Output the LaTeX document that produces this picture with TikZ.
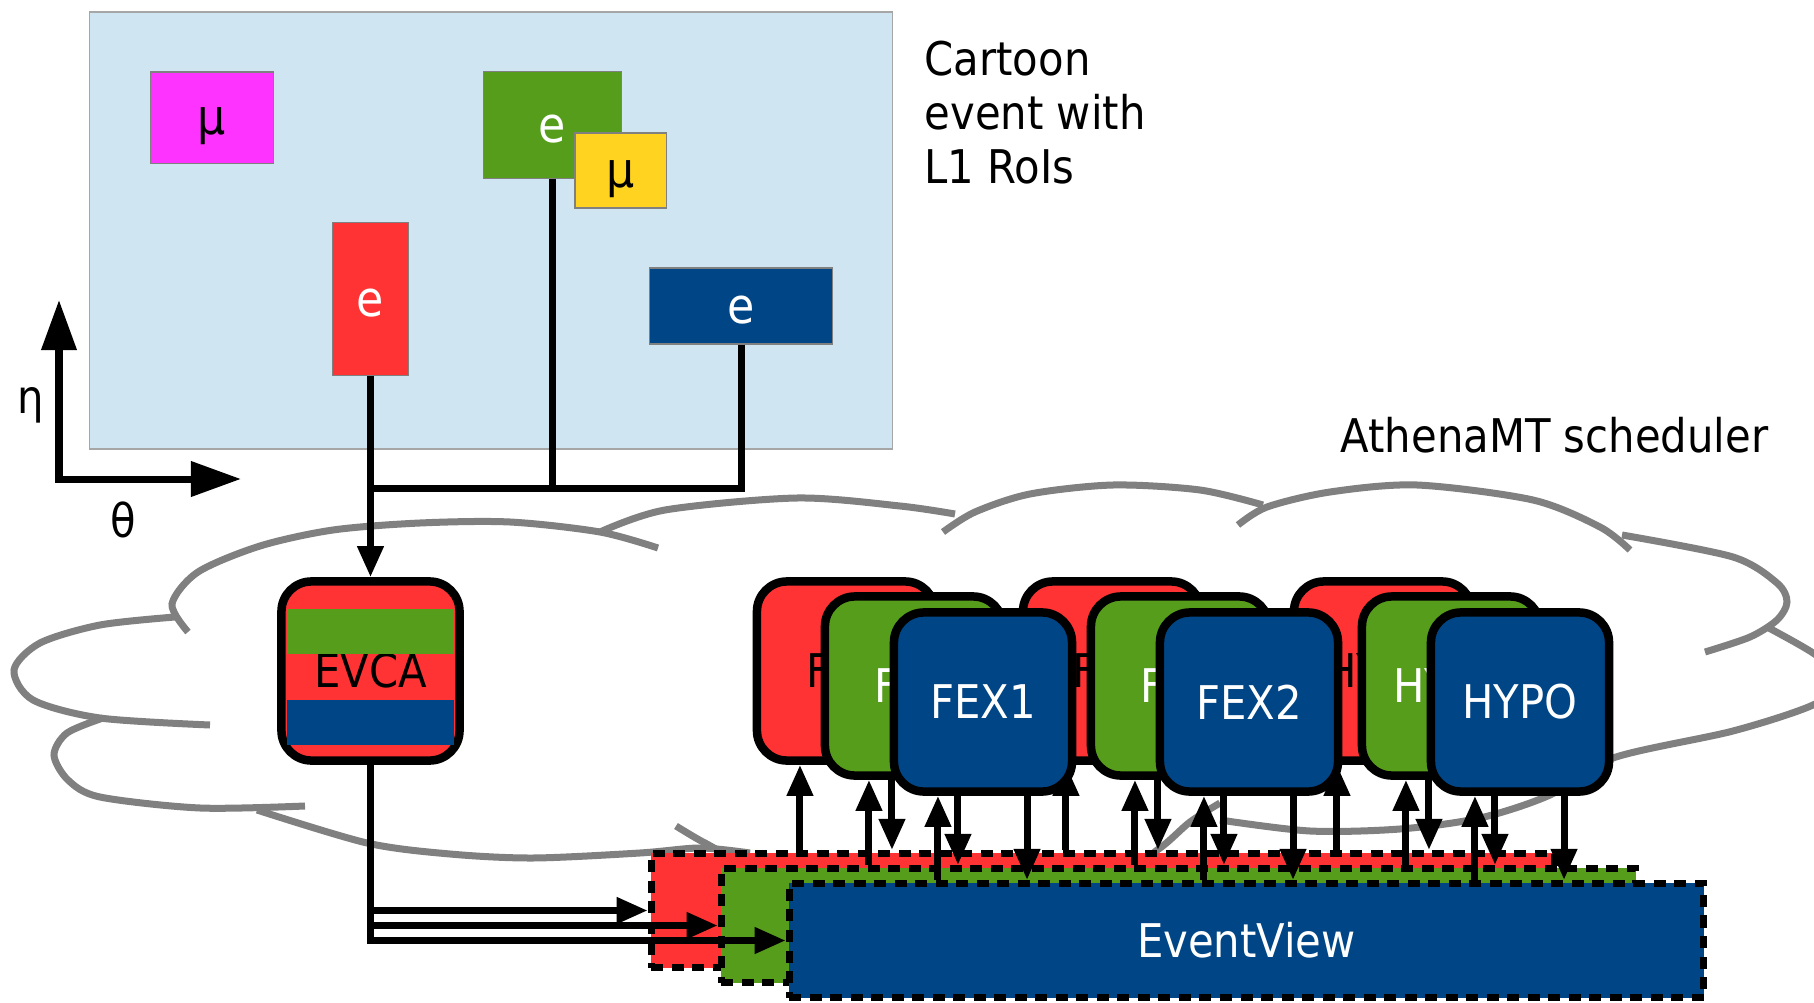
\documentclass[tikz,border=0pt]{standalone}
\usepackage{fontspec}
\IfFontExistsTF{DejaVu Sans Condensed}
  {\setmainfont{DejaVu Sans Condensed}}
  {\setmainfont{DejaVu Sans}[FakeStretch=0.9]}
\usepackage{xcolor}
\definecolor{redRoI}{RGB}{255,51,51}
\definecolor{greenRoI}{RGB}{87,157,28}
\definecolor{blueRoI}{RGB}{0,69,134}
\definecolor{yellowRoI}{RGB}{255,211,32}
\definecolor{magentaRoI}{RGB}{255,51,255}
\definecolor{skyRoI}{RGB}{207,229,242}
\definecolor{grayCloud}{RGB}{128,128,128}
\usetikzlibrary{arrows.meta,positioning}
\pgfdeclarelayer{bg}
\pgfdeclarelayer{links}
\pgfsetlayers{bg,links,main}

\begin{document}
\begin{tikzpicture}[x=0.01cm,y=-0.01cm,
    font=\fontsize{13.2}{15.4}\selectfont,
    roi/.style={draw=gray,line width=0.3pt,inner sep=0,
                font=\fontsize{14}{16}\selectfont,text height=13pt,text depth=3.3pt},
    alg/.style={draw,line width=0.85mm,rounded corners=3mm,inner sep=0,
                minimum width=1.78cm,minimum height=1.79cm},
    evbox/.style={draw,line width=0.7mm,dash pattern=on 1.2mm off 0.85mm,
                  inner sep=0,minimum height=1.14cm},
    stripe/.style={inner sep=0,outer sep=0,minimum width=1.66cm,minimum height=0.45cm},
    link/.style={line width=0.7mm},
    arr/.style={link,-{Triangle[length=3.1mm,width=2.5mm]}},
    axisarrow/.style={link,{Triangle[length=5mm,width=3.4mm]}-{Triangle[length=5mm,width=3.4mm]}},
    cloudline/.style={draw=grayCloud,line width=0.7mm},
  ]
  \useasboundingbox (0,0) rectangle (1814,1003);

    % Scheduler cloud
    \begin{pgfonlayer}{bg}
    \begin{scope}
      \clip (0,0) rectangle (1814,1003);
      \draw[cloudline] plot[smooth] coordinates {(188,632) (172,604) (198,572) (260,546)
        (333,530) (420,523) (510,522) (600,532) (658,548)};
      \draw[cloudline] plot[smooth] coordinates {(175,617) (100,625) (40,643) (14,670)
        (33,700) (100,718) (210,725)};
      \draw[cloudline] plot[smooth] coordinates {(103,718) (67,733) (54,755) (68,780)
        (100,797) (200,808) (305,806)};
      \draw[cloudline] plot[smooth] coordinates {(257,810) (367,843) (450,854) (533,858)
        (640,853) (700,848) (750,853)};
      \draw[cloudline] plot[smooth] coordinates {(676,826) (705,843) (740,858) (850,880)
        (1000,885) (1120,870) (1160,848) (1190,822) (1220,803)};
      \draw[cloudline] plot[smooth] coordinates {(1220,820) (1310,831) (1400,829) (1480,818)
        (1550,795) (1613,758) (1733,731) (1813,705) (1845,680) (1813,653) (1767,627)};
      \draw[cloudline] plot[smooth] coordinates {(1622,535) (1733,557) (1777,583) (1787,602)
        (1777,620) (1750,637) (1705,652)};
      \draw[cloudline] plot[smooth] coordinates {(1238,525) (1267,507) (1330,492) (1417,485)
        (1533,500) (1600,527) (1630,550)};
      \draw[cloudline] plot[smooth] coordinates {(943,532) (975,512) (1030,494) (1113,485)
        (1200,490) (1263,505)};
      \draw[cloudline] plot[smooth] coordinates {(600,532) (665,510) (797,498) (900,506)
        (955,514)};
    \end{scope}
    \end{pgfonlayer}

    % Cartoon event
    \node[draw=gray!70,line width=0.4pt,fill=skyRoI,inner sep=0,
          minimum width=8.02cm,minimum height=4.37cm] (panel) at (491,230.5) {};
    \node[roi,fill=magentaRoI,minimum width=1.22cm,minimum height=0.91cm] (mua) at (212,117.5) {μ};
    \node[roi,fill=greenRoI,text=white,minimum width=1.37cm,minimum height=1.06cm] (eg) at (552.5,125) {e};
    \node[roi,fill=yellowRoI,minimum width=0.91cm,minimum height=0.75cm] (mub) at (620.5,170.5) {μ};
    \node[roi,fill=redRoI,text=white,minimum width=0.76cm,minimum height=1.52cm] (er) at (370.5,299) {e};
    \node[roi,fill=blueRoI,text=white,minimum width=1.82cm,minimum height=0.76cm] (eb) at (741,306) {e};

    % Axes
    \coordinate (etatip) at (59,300);
    \coordinate (thetatip) at (241,479);
    \draw[axisarrow] (etatip) |- (thetatip);
    \node (eta) at (31,405) {η};
    \node (theta) at (123,520) {θ};

    % Captions
    \node[anchor=north west,align=left,inner sep=0] (cartoon) at (924,40)
      {Cartoon\\event with\\L1 RoIs};
    \node[anchor=base east,inner sep=0] (sched) at (1769,452) {AthenaMT scheduler};

    % EVCA
    \node[alg,fill=redRoI] (evca) at (370.5,671) {EVCA};
    \node[stripe,fill=greenRoI,below=0.32cm of evca.north] (evcag) {};
    \node[stripe,fill=blueRoI,above=0.2cm of evca.south] (evcab) {};

    % RoIs to EVCA
    \coordinate (jn) at (370.5,488);
    \draw[link] (eg.south) -- (eg.south |- jn);
    \draw[link] (eb.south) |- (jn);
    \draw[arr] (er.south) -- (evca.north);

    % Algorithms
    \foreach \c/\lbl/\n in {846/FEX/1,1112/FEX/2,1383/HYPO/3}
      \node[alg,fill=redRoI] (r\n) at (\c,671) {\lbl};
    \foreach \c/\lbl/\n in {846/FEX/1,1112/FEX/2,1383/HYPO/3}
      \node[alg,fill=greenRoI,text=white] (g\n) at (\c+68,686) {\lbl};
    \foreach \c/\lbl/\n in {846/FEX1/1,1112/FEX2/2,1383/HYPO/3}
      \node[alg,fill=blueRoI,text=white] (b\n) at (\c+137,702) {\lbl};

    % EventViews
    \begin{pgfonlayer}{links}
    \node[evbox,fill=redRoI,minimum width=9.03cm] (evr) at (1103,910.5) {};
    \node[evbox,fill=greenRoI,minimum width=9.14cm] (evg) at (1178.5,925.5) {};
    \node[evbox,fill=blueRoI,text=white,minimum width=9.14cm] (evb) at (1246.5,940.5) {EventView};

    \draw[arr] (evca.south) |- (evr.west);
    \draw[arr] (evca.south) |- (evg.west);
    \draw[arr] (evca.south) |- (evb.west);

    % Reads and writes
    \foreach \n in {1,2,3} {
      \path ([xshift=-4.6mm]r\n.south) coordinate (ur\n)
            ([xshift=-4.5mm]g\n.south) coordinate (ug\n)
            ([xshift=-2.2mm]g\n.south) coordinate (dg\n)
            ([xshift=-4.5mm]b\n.south) coordinate (ub\n)
            ([xshift=-2.5mm]b\n.south) coordinate (dbg\n)
            ([xshift=4.4mm]b\n.south) coordinate (dbb\n);
      \draw[arr] (ur\n |- evr.north) -- (ur\n);
      \draw[arr] (ug\n |- evg.north) -- (ug\n);
      \draw[arr] (dg\n) -- (dg\n |- evr.north);
      \draw[arr] (ub\n |- evb.north) -- (ub\n);
      \draw[arr] (dbg\n) -- (dbg\n |- evg.north);
      \draw[arr] (dbb\n) -- (dbb\n |- evb.north);
    }
    \end{pgfonlayer}

\end{tikzpicture}
\end{document}
